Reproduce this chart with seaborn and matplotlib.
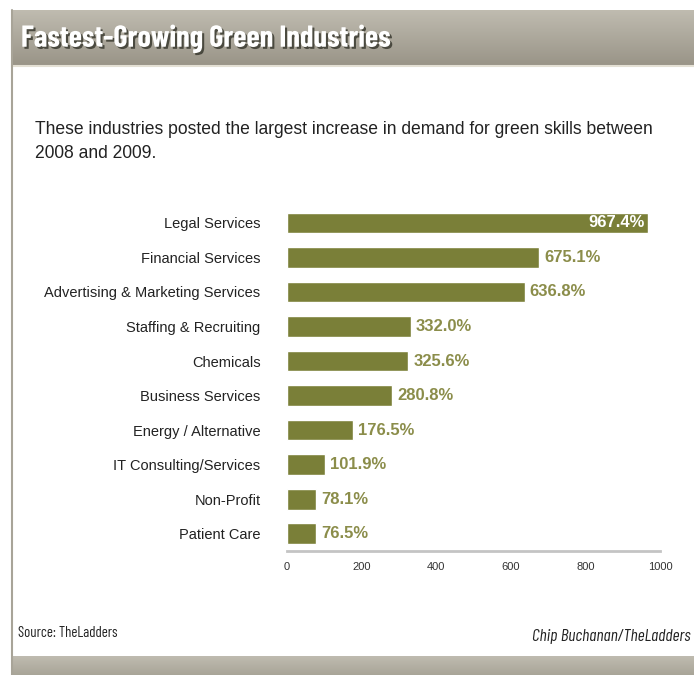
import os
import numpy as np
import matplotlib
matplotlib.use("Agg")
import matplotlib.pyplot as plt
import matplotlib.patheffects as pe
from matplotlib import font_manager as fm
import seaborn as sns
import pandas as pd

categories = ["Legal Services", "Financial Services", "Advertising & Marketing Services",
              "Staffing & Recruiting", "Chemicals", "Business Services",
              "Energy / Alternative", "IT Consulting/Services", "Non-Profit", "Patient Care"]
values = [967.4, 675.1, 636.8, 332.0, 325.6, 280.8, 176.5, 101.9, 78.1, 76.5]
xticks = [0, 200, 400, 600, 800, 1000]

sns.set_theme(style="white")
plt.rcParams['font.family'] = ['Liberation Sans', 'DejaVu Sans']

files = {os.path.basename(f.fname): f.fname for f in fm.fontManager.ttflist}


def pick(names):
    for n in names:
        if n in files:
            return fm.FontProperties(fname=files[n])
    return fm.FontProperties(family="DejaVu Sans")


title_fp = pick(["BarlowCondensed-Bold.ttf", "LiberationSansNarrow-Bold.ttf",
                 "RobotoCondensed-Bold.ttf", "DejaVuSansCondensed-Bold.ttf"])
narrow_fp = pick(["BarlowCondensed-Regular.ttf", "LiberationSansNarrow-Regular.ttf",
                  "RobotoCondensed-Regular.ttf", "DejaVuSansCondensed.ttf"])
narrow_it_fp = pick(["BarlowCondensed-Italic.ttf", "LiberationSansNarrow-Italic.ttf",
                     "RobotoCondensed-Italic.ttf", "DejaVuSansCondensed-Oblique.ttf"])

W, H = 694, 675
fig = plt.figure(figsize=(W / 100, H / 100), dpi=100)
fig.patch.set_facecolor("white")
renderer = fig.canvas.get_renderer()


def fit(t, target_px):
    bb = t.get_window_extent(renderer)
    t.set_fontsize(t.get_fontsize() * target_px / bb.width)


bg = fig.add_axes([0, 0, 1, 1], zorder=-10)
bg.set_xlim(0, W)
bg.set_ylim(H, 0)
bg.axis("off")
g = np.linspace(0, 1, 100).reshape(-1, 1, 1)
c1 = np.array([0.75, 0.735, 0.69])
c2 = np.array([0.60, 0.58, 0.53])
bg.imshow(c1 + (c2 - c1) * g, extent=[12, W, 66, 10], aspect="auto", zorder=0)
bg.plot([12, W], [66, 66], color="#e4e0d4", lw=1.5, zorder=1)
c3 = np.array([0.66, 0.645, 0.595])
bg.imshow(c1 + (c3 - c1) * g, extent=[12, W, H, 656], aspect="auto", zorder=0)
bg.plot([12, 12], [10, 675], color="#a8a498", lw=1.5, zorder=1)

title = fig.text(21 / W, 1 - 39 / H, "Fastest-Growing Green Industries",
                 fontproperties=title_fp, fontsize=21, color="white",
                 va="center", ha="left",
                 path_effects=[pe.withSimplePatchShadow(offset=(1.5, -1.5),
                                                        shadow_rgbFace="#3a3a30", alpha=0.85)])
fit(title, 370)

sub1 = fig.text(35 / W, 1 - 130 / H,
                "These industries posted the largest increase in demand for green skills between",
                fontsize=12, color="#222222", va="center", ha="left")
fit(sub1, 622)
fig.text(35 / W, 1 - 153 / H, "2008 and 2009.",
         fontsize=sub1.get_fontsize(), color="#222222", va="center", ha="left")

src = fig.text(18 / W, 1 - 633 / H, "Source: TheLadders",
               fontproperties=narrow_fp, fontsize=11, color="#222222",
               va="center", ha="left")
fit(src, 99)
chip = fig.text(532 / W, 1 - 637 / H, "Chip Buchanan/TheLadders",
                fontproperties=narrow_it_fp, fontsize=10, color="#222222",
                va="center", ha="left")
fit(chip, 159)

# chart
ax = fig.add_axes([287 / W, 1 - 551 / H, 373 / W, (551 - 205.6) / H])
df = pd.DataFrame({"category": categories, "value": values})
bar_color = "#7a7f38"
sns.barplot(data=df, x="value", y="category", orient="h", color=bar_color,
            width=0.6, ax=ax, saturation=1)
ax.set_xlim(0, 1000)
ax.set_ylim(len(categories) - 0.5, -0.5)
ax.set_xlabel("")
ax.set_ylabel("")
ax.set_facecolor("none")
for s in ["top", "right", "left"]:
    ax.spines[s].set_visible(False)
ax.spines["bottom"].set_color("#c4c4c4")
ax.spines["bottom"].set_linewidth(2)
ax.set_xticks(xticks)
ax.set_xticklabels([str(t) for t in xticks], fontsize=8, color="#333333")
ax.tick_params(axis="x", length=0, pad=8)
ax.tick_params(axis="y", length=0, pad=19)
for lbl in ax.get_yticklabels():
    lbl.set_fontsize(10.5)
    lbl.set_color("#222222")

for i, v in enumerate(values):
    txt = f"{v:.1f}%"
    if i == 0:
        ax.text(v - 8, i, txt, ha="right", va="center", fontsize=12,
                fontweight="bold", color="white")
    else:
        ax.text(v + 14, i, txt, ha="left", va="center", fontsize=12,
                fontweight="bold", color="#8b8d4a")

fig.savefig("out.png", dpi=100)
